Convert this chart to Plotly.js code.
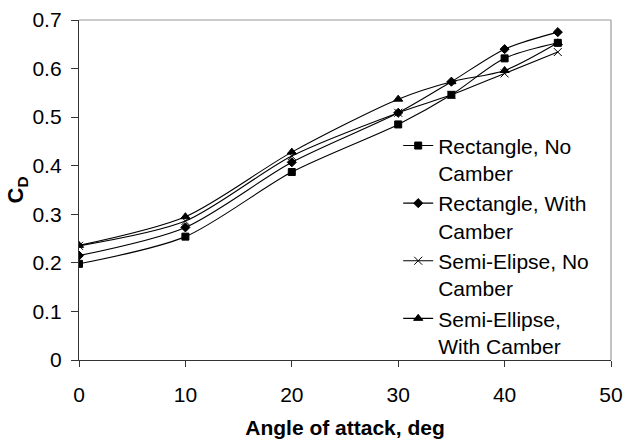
<!DOCTYPE html>
<html>
<head>
<meta charset="utf-8">
<script src="https://cdn.plot.ly/plotly-3.0.1.min.js"></script>
<style>html,body{margin:0;padding:0;background:#fff;}#chart{width:629px;height:444px;}</style>
</head>
<body>
<div id="chart"></div>
<script>
const angles = [0, 10, 20, 30, 35, 40, 45];
const rectNoCamber = [0.198, 0.254, 0.387, 0.485, 0.546, 0.621, 0.653];
const rectWithCamber = [0.215, 0.273, 0.407, 0.509, 0.573, 0.640, 0.675];
const semiNoCamber = [0.235, 0.286, 0.420, 0.509, 0.546, 0.590, 0.634];
const semiWithCamber = [0.236, 0.295, 0.428, 0.537, 0.573, 0.596, 0.653];
const seriesNames = ["Rectangle, No<br>Camber", "Rectangle, With<br>Camber", "Semi-Elipse, No<br>Camber", "Semi-Ellipse,<br>With Camber"];
const xTicks = [0, 10, 20, 30, 40, 50];
const yTicks = [0, 0.1, 0.2, 0.3, 0.4, 0.5, 0.6, 0.7];

const FONT = "Arial, 'Liberation Sans', sans-serif";
const symbols = ["square", "diamond", "x-thin-open", "triangle-up"];
const sizes = [7, 7, 8, 8];
const data = [rectNoCamber, rectWithCamber, semiNoCamber, semiWithCamber].map((ys, i) => ({
  x: angles, y: ys, name: seriesNames[i], type: "scatter", mode: "lines+markers",
  line: {color: "#000", width: 1.1, shape: "spline", smoothing: 0.8},
  marker: {symbol: symbols[i], size: sizes[i], color: "#000", line: {color: "#000", width: 1}}
}));

const layout = {
  width: 629, height: 444,
  margin: {l: 79, r: 18, t: 20, b: 84},
  paper_bgcolor: "#fff", plot_bgcolor: "#fff",
  font: {family: FONT, color: "#000", size: 21},
  showlegend: true,
  legend: {x: 0.6, y: 0.69, xanchor: "left", yanchor: "top", bgcolor: "rgba(0,0,0,0)",
           font: {family: FONT, size: 21, color: "#000"}, valign: "top", tracegroupgap: 0},
  xaxis: {range: [0, 50], tickvals: xTicks, ticks: "outside", ticklen: 6, tickcolor: "#333",
          showline: true, linecolor: "#333", linewidth: 1.2, showgrid: false, zeroline: false,
          tickfont: {family: FONT, size: 21}, ticklabelstandoff: 10,
          title: {text: "<b>Angle of attack, deg</b>", font: {family: FONT, size: 21}, standoff: 14}},
  yaxis: {range: [0, 0.7], tickvals: yTicks, ticktext: yTicks.map(v => v === 0 ? "0" : v.toFixed(1)),
          ticks: "outside", ticklen: 7, tickcolor: "#333",
          showline: true, linecolor: "#333", linewidth: 1.2, showgrid: false, zeroline: false,
          tickfont: {family: FONT, size: 21}, ticklabelstandoff: 5,
          title: {text: "<b>C<sub>D</sub></b>", font: {family: FONT, size: 22}, standoff: 2}},
  shapes: [
    {type: "line", xref: "paper", yref: "paper", x0: 0, x1: 1, y0: 1, y1: 1, line: {color: "#999", width: 1.2}},
    {type: "line", xref: "paper", yref: "paper", x0: 1, x1: 1, y0: 0, y1: 1, line: {color: "#999", width: 1.2}}
  ]
};

Plotly.newPlot("chart", data, layout, {displayModeBar: false, staticPlot: true});
</script>
</body>
</html>
